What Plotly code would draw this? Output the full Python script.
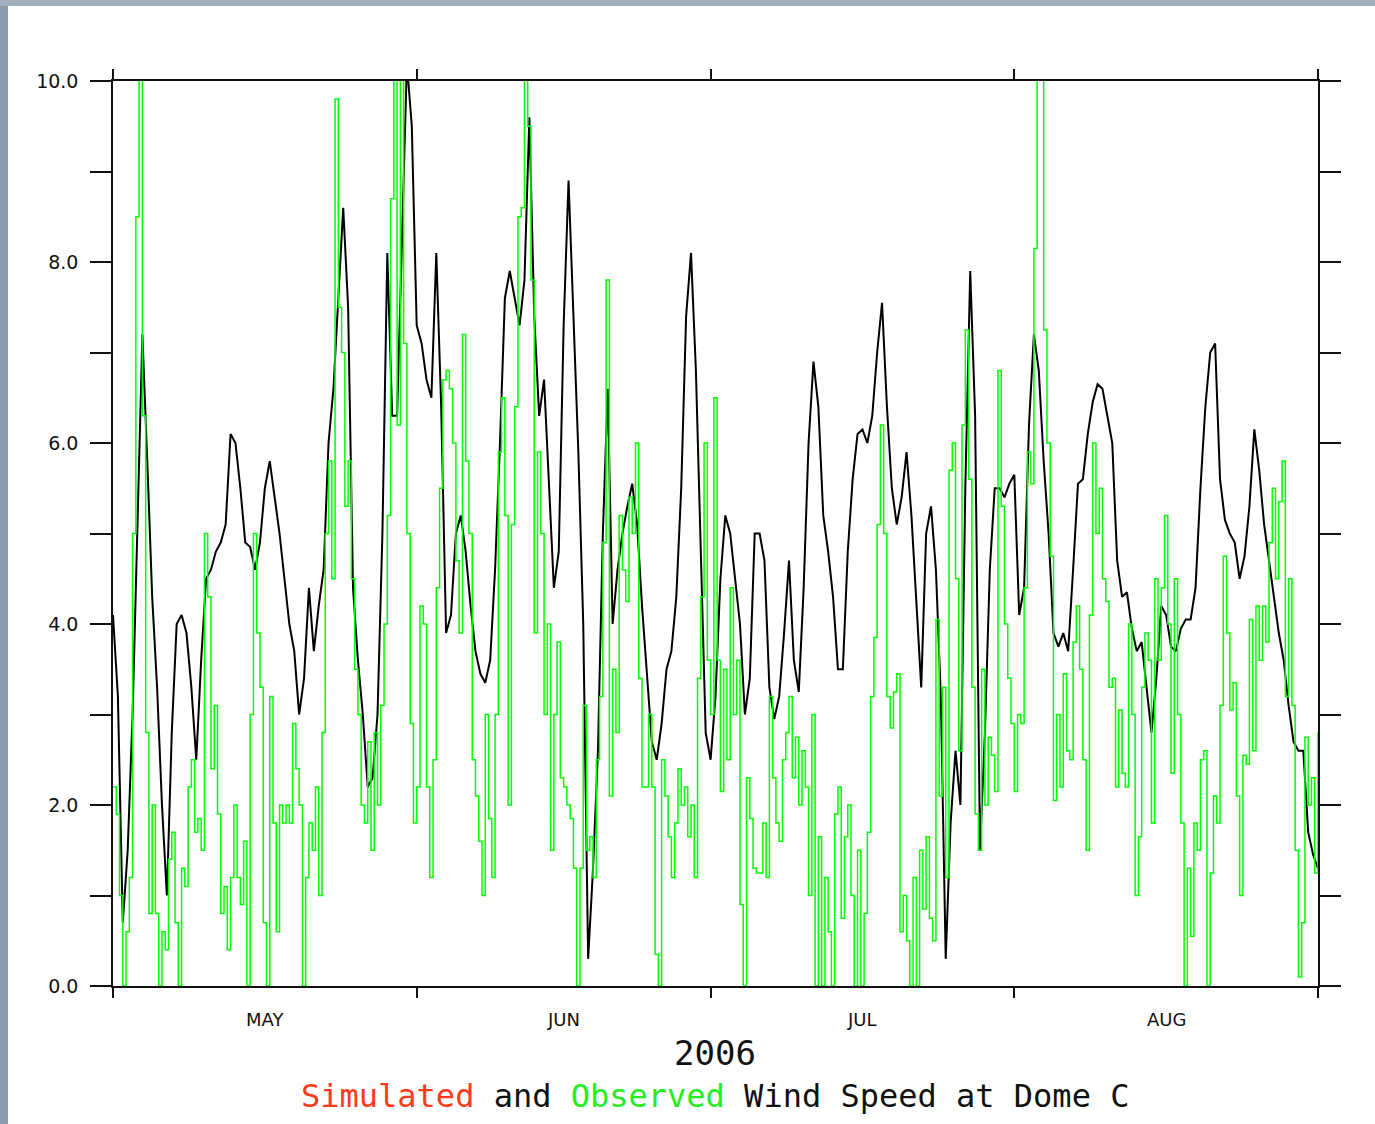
import plotly.graph_objects as go
import pandas as pd

# Simulated wind speed (m/s), every 12 h from 2006-05-01 00:00
simulated = [4.1, 3.2, 0.7, 1.5, 3.0, 5.0, 7.2, 5.8, 4.3, 3.3,
             2.0, 1.0, 2.8, 4.0, 4.1, 3.9, 3.3, 2.5, 3.6, 4.5,
             4.6, 4.8, 4.9, 5.1, 6.1, 6.0, 5.5, 4.9, 4.85, 4.6,
             4.9, 5.5, 5.8, 5.4, 5.0, 4.5, 4.0, 3.7, 3.0, 3.4,
             4.4, 3.7, 4.2, 4.6, 6.0, 6.6, 7.6, 8.6, 7.5, 4.4,
             3.6, 3.0, 2.2, 2.3, 3.0, 5.0, 8.1, 6.3, 6.3, 8.3,
             10.2, 9.5, 7.3, 7.1, 6.7, 6.5, 8.1, 6.4, 3.9, 4.1,
             5.0, 5.2, 4.8, 4.2, 3.7, 3.45, 3.35, 3.6, 4.6, 6.0,
             7.6, 7.9, 7.6, 7.3, 7.8, 9.6, 7.4, 6.3, 6.7, 5.6,
             4.4, 4.8, 7.3, 8.9, 7.5, 5.9, 4.0, 0.3, 1.3, 2.6,
             5.0, 6.6, 4.0, 4.6, 5.0, 5.3, 5.55, 5.1, 4.2, 3.4,
             2.7, 2.5, 2.9, 3.5, 3.7, 4.3, 5.5, 7.4, 8.1, 6.8,
             4.8, 2.8, 2.5, 3.2, 4.5, 5.2, 5.0, 4.5, 4.0, 3.0,
             3.4, 5.0, 5.0, 4.7, 3.3, 2.95, 3.2, 3.9, 4.7, 3.6,
             3.25, 4.4, 6.0, 6.9, 6.4, 5.2, 4.8, 4.3, 3.5, 3.5,
             4.8, 5.6, 6.1, 6.15, 6.0, 6.3, 7.0, 7.55, 6.4, 5.5,
             5.1, 5.4, 5.9, 5.2, 4.2, 3.3, 5.0, 5.3, 4.6, 3.2,
             0.3, 1.8, 2.6, 2.0, 5.5, 7.9, 6.3, 1.5, 2.8, 4.6,
             5.5, 5.5, 5.4, 5.55, 5.65, 4.1, 4.4, 6.2, 7.2, 6.8,
             5.8, 5.0, 3.9, 3.75, 3.9, 3.7, 4.6, 5.55, 5.6, 6.1,
             6.45, 6.65, 6.6, 6.3, 6.0, 4.7, 4.3, 4.35, 3.95, 3.7,
             3.8, 3.3, 2.8, 3.4, 4.2, 4.1, 3.75, 3.7, 3.95, 4.05,
             4.05, 4.4, 5.5, 6.4, 7.0, 7.1, 5.6, 5.15, 5.0, 4.9,
             4.5, 4.75, 5.3, 6.15, 5.7, 5.1, 4.7, 4.3, 3.9, 3.6,
             3.1, 2.7, 2.6, 2.6, 1.7, 1.45, 1.3]

# Observed wind speed (m/s), every 8 h from 2006-05-01 00:00
observed = [2.2, 1.9, 1.0, 0.0, 0.6, 1.2, 5.0, 8.5, 10.2, 6.3,
            2.8, 0.8, 2.0, 0.8, 0.0, 0.6, 0.4, 1.4, 1.7, 0.7,
            0.0, 1.3, 1.1, 2.2, 2.5, 1.7, 1.85, 1.5, 5.0, 4.3,
            2.4, 3.1, 1.9, 0.8, 1.1, 0.4, 1.2, 2.0, 1.2, 0.9,
            1.6, 0.0, 3.0, 5.0, 3.9, 3.3, 0.7, 0.0, 3.2, 1.8,
            0.6, 2.0, 1.8, 2.0, 1.8, 2.9, 2.4, 2.0, 0.0, 1.2,
            1.8, 1.5, 2.2, 1.0, 2.8, 5.0, 5.8, 4.5, 9.8, 7.5,
            7.0, 5.3, 5.8, 4.5, 3.5, 3.0, 2.0, 1.8, 2.7, 1.5,
            2.8, 2.0, 3.1, 4.0, 5.2, 8.7, 10.2, 6.2, 10.2, 7.1,
            5.0, 2.9, 1.8, 2.2, 4.2, 4.0, 2.2, 1.2, 2.5, 4.4,
            5.5, 6.7, 6.8, 6.6, 6.0, 4.7, 3.9, 7.2, 5.8, 5.0,
            2.5, 2.1, 1.6, 1.0, 3.0, 1.85, 1.2, 3.0, 5.9, 6.5,
            5.2, 2.0, 5.1, 6.4, 8.5, 8.6, 10.2, 9.5, 7.8, 3.9,
            5.9, 5.0, 3.0, 4.0, 1.5, 3.0, 3.8, 2.3, 2.2, 2.0,
            1.85, 1.3, 0.0, 1.3, 3.1, 1.5, 1.65, 1.2, 2.5, 3.2,
            4.9, 7.8, 2.1, 3.5, 2.8, 5.2, 4.6, 4.25, 5.4, 5.0,
            6.0, 3.4, 2.2, 2.2, 3.0, 2.2, 0.35, 0.0, 2.5, 2.1,
            1.65, 1.2, 1.8, 2.4, 2.0, 2.2, 1.65, 2.0, 1.2, 3.4,
            4.3, 6.0, 3.6, 3.0, 6.5, 3.6, 2.15, 3.5, 2.5, 4.4,
            3.0, 3.6, 0.9, 0.0, 2.3, 1.85, 1.3, 1.25, 1.25, 1.8,
            1.2, 3.2, 2.3, 1.8, 1.6, 2.5, 2.8, 3.2, 2.3, 2.75,
            2.0, 2.6, 2.2, 1.0, 3.0, 0.0, 1.65, 0.0, 1.2, 0.6,
            0.0, 1.9, 2.2, 0.75, 1.65, 2.0, 1.0, 0.0, 1.5, 0.0,
            0.8, 1.7, 3.2, 3.85, 5.1, 6.2, 5.0, 3.2, 2.85, 3.25,
            3.45, 0.6, 1.0, 0.5, 0.0, 1.2, 0.0, 1.5, 0.85, 1.65,
            0.75, 0.5, 4.05, 2.1, 3.3, 1.2, 5.7, 6.0, 4.5, 2.6,
            6.2, 7.25, 5.6, 3.3, 1.9, 1.5, 3.5, 2.0, 2.75, 2.55,
            2.15, 6.8, 5.3, 4.0, 3.4, 2.9, 2.15, 3.0, 2.9, 4.4,
            5.9, 5.55, 8.15, 10.2, 10.2, 7.25, 6.0, 4.75, 2.05, 3.0,
            2.2, 3.45, 2.6, 2.5, 3.8, 4.2, 3.5, 2.5, 1.5, 4.1,
            6.0, 5.0, 5.5, 4.5, 4.25, 3.3, 3.4, 2.2, 3.05, 2.35,
            2.2, 4.0, 3.0, 1.0, 1.65, 3.3, 3.9, 3.6, 1.8, 4.5,
            3.6, 4.4, 5.2, 4.0, 2.35, 4.5, 3.0, 1.8, 0.0, 1.3,
            0.55, 1.8, 1.5, 2.5, 2.6, 0.0, 1.25, 2.1, 1.8, 3.1,
            4.75, 3.9, 3.05, 3.35, 2.1, 1.0, 2.55, 2.45, 4.05, 2.6,
            4.2, 3.6, 4.2, 3.8, 4.9, 5.5, 4.5, 5.35, 5.8, 3.2,
            4.5, 3.1, 1.5, 0.1, 0.7, 2.75, 2.0, 2.3, 1.25, 2.8]

month_ticks = ["2006-05-01", "2006-06-01", "2006-07-01", "2006-08-01", "2006-09-01"]
month_label_pos = ["2006-05-16 12:00", "2006-06-16 00:00", "2006-07-16 12:00", "2006-08-16 12:00"]
month_labels = ["MAY", "JUN", "JUL", "AUG"]
y_tickvals = [0, 1, 2, 3, 4, 5, 6, 7, 8, 9, 10]
y_ticktext = ["0.0", "", "2.0", "", "4.0", "", "6.0", "", "8.0", "", "10.0"]

sim_t = pd.date_range("2006-05-01", periods=len(simulated), freq="12h")
obs_t = pd.date_range("2006-05-01", periods=len(observed), freq="8h")

fig = go.Figure()
fig.add_trace(go.Scatter(x=sim_t, y=simulated, mode="lines",
                         line=dict(color="#000000", width=2), name="Simulated"))
fig.add_trace(go.Scatter(x=obs_t, y=observed, mode="lines",
                         line=dict(color="#00ff00", width=1.5, shape="hv"), name="Observed"))

W, H = 1375, 1124
L, R, T, B = 113, 1318, 81, 986
pw, ph = R - L, B - T

def px(x):
    return (x - L) / pw

def py(y):
    return (B - y) / ph

fig.update_layout(
    width=W, height=H,
    margin=dict(l=L, r=W - R, t=T, b=H - B, pad=0),
    paper_bgcolor="white", plot_bgcolor="white",
    showlegend=False,
    xaxis=dict(type="date", range=["2006-05-01", "2006-09-01"],
               tickvals=month_ticks, ticktext=[""] * len(month_ticks),
               ticks="outside", ticklen=10, tickwidth=1.5, tickcolor="#111",
               showline=True, linecolor="#111", linewidth=1.5, mirror="ticks",
               showgrid=False, zeroline=False),
    yaxis=dict(range=[0, 10], tickvals=y_tickvals, ticktext=y_ticktext,
               ticks="outside", ticklen=21, tickwidth=1.5, tickcolor="#111",
               showline=True, linecolor="#111", linewidth=1.5, mirror="ticks",
               showgrid=False, zeroline=False, ticklabelstandoff=8,
               tickfont=dict(family="DejaVu Sans", size=19, color="#111")),
)

for pos, lab in zip(month_label_pos, month_labels):
    fig.add_annotation(x=pos, xref="x", y=py(1019), yref="paper", text=lab,
                       showarrow=False, xanchor="center", yanchor="middle",
                       font=dict(family="DejaVu Sans", size=18, color="#111"))

fig.add_annotation(x=px(715), xref="paper", y=py(1053), yref="paper", text="2006",
                   showarrow=False, xanchor="center", yanchor="middle",
                   font=dict(family="DejaVu Sans Mono", size=34, color="#111"))
fig.add_annotation(x=px(715), xref="paper", y=py(1096), yref="paper",
                   text='<span style="color:#ff3a1a">Simulated</span> and '
                        '<span style="color:#22ee22">Observed</span> Wind Speed at Dome C',
                   showarrow=False, xanchor="center", yanchor="middle",
                   font=dict(family="DejaVu Sans Mono", size=32, color="#111"))

# bluish-grey page edge strips (left and top)
fig.add_shape(type="rect", xref="paper", yref="paper", x0=px(0), x1=px(8), y0=py(H), y1=py(0),
              line=dict(width=0), fillcolor="#8a9bab", layer="above")
fig.add_shape(type="rect", xref="paper", yref="paper", x0=px(0), x1=px(W), y0=py(6), y1=py(0),
              line=dict(width=0), fillcolor="#a2afba", layer="above")

fig.write_html("out.html")
